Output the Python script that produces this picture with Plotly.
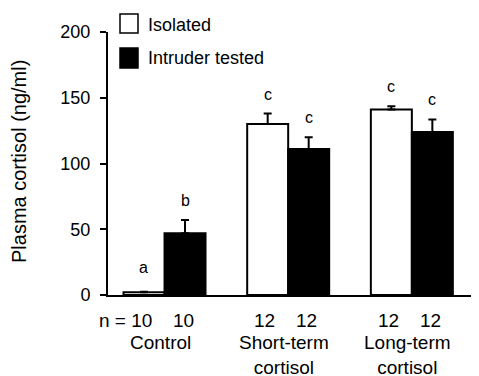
import plotly.graph_objects as go

# ---- data ----
categories = ["Control", "Short-term<br>cortisol", "Long-term<br>cortisol"]
isolated = [2, 130, 141]
isolated_err = [0.5, 8, 2.5]
intruder = [47, 111, 124]
intruder_err = [10, 9, 9.5]
n_isolated = ["10", "12", "12"]
n_intruder = ["10", "12", "12"]
letters_isolated = ["a", "c", "c"]
letters_intruder = ["b", "c", "c"]
y_ticks = [0, 50, 100, 150, 200]
series_names = ["Isolated", "Intruder tested"]

# ---- layout constants (page pixels; the page body adds an 8px offset) ----
OFF = 8
PAGE_W, PAGE_H = 479, 376
W, H = PAGE_W - OFF, PAGE_H - OFF
AX_L, AX_R, AX_T, AX_B = 108, 479, 32, 295   # plot area in page pixels
ML, MT = AX_L - OFF, AX_T - OFF
MR = PAGE_W - AX_R
MB = PAGE_H - AX_B
PW, PH = AX_R - AX_L, AX_B - AX_T
FONT = "Liberation Sans, Arial, Helvetica, sans-serif"
XR = [-0.457, 2.543]
BAR_OFF = 0.166

def px_x(X):
    return (X - AX_L) / PW

def px_y(Y):
    return (AX_B - Y) / PH

xs = list(range(len(categories)))

fig = go.Figure()
fig.add_trace(go.Bar(
    x=xs, y=isolated, name=series_names[0],
    marker=dict(color="white", line=dict(color="black", width=2)),
    error_y=dict(type="data", array=isolated_err, arrayminus=[0] * 3,
                 symmetric=False, color="black", thickness=2, width=4),
))
fig.add_trace(go.Bar(
    x=xs, y=intruder, name=series_names[1],
    marker=dict(color="black", line=dict(color="black", width=2)),
    error_y=dict(type="data", array=intruder_err, arrayminus=[0] * 3,
                 symmetric=False, color="black", thickness=2, width=4),
))

ann = []
# significance letters
for i in xs:
    ann.append(dict(x=i - BAR_OFF, y=isolated[i] + isolated_err[i], xref="x", yref="y",
                    text=letters_isolated[i], showarrow=False, yanchor="bottom",
                    yshift=9 if isolated[i] > 10 else 14, font=dict(size=16)))
    ann.append(dict(x=i + BAR_OFF, y=intruder[i] + intruder_err[i], xref="x", yref="y",
                    text=letters_intruder[i], showarrow=False, yanchor="bottom",
                    yshift=9, font=dict(size=16)))
# n labels
for i in xs:
    if i == 0:
        ann.append(dict(x=i - BAR_OFF, y=px_y(320), xref="x", yref="paper",
                        text="n = " + n_isolated[i], showarrow=False, xanchor="right",
                        xshift=10, yanchor="middle", font=dict(size=19)))
    else:
        ann.append(dict(x=i - BAR_OFF, y=px_y(320), xref="x", yref="paper",
                        text=n_isolated[i], showarrow=False, xanchor="center",
                        xshift=-3, yanchor="middle", font=dict(size=19)))
    ann.append(dict(x=i + BAR_OFF, y=px_y(320), xref="x", yref="paper", text=n_intruder[i],
                    showarrow=False, xanchor="center", xshift=-2, yanchor="middle",
                    font=dict(size=19)))
# category labels
for i, c in enumerate(categories):
    ann.append(dict(x=i, y=px_y(330), xref="x", yref="paper", text=c, showarrow=False,
                    xanchor="center", yanchor="top", xshift=-4, font=dict(size=19)))
# y-axis title
ann.append(dict(x=px_x(18.5), y=px_y(161.5), xref="paper", yref="paper",
                text="Plasma cortisol (ng/ml)", textangle=-90, showarrow=False,
                xanchor="center", yanchor="middle", font=dict(size=20)))
# legend text
ann.append(dict(x=px_x(146), y=px_y(25), xref="paper", yref="paper", text=series_names[0],
                showarrow=False, xanchor="left", yanchor="middle", font=dict(size=18)))
ann.append(dict(x=px_x(146), y=px_y(58), xref="paper", yref="paper", text=series_names[1],
                showarrow=False, xanchor="left", yanchor="middle", font=dict(size=18)))

shapes = [
    dict(type="rect", xref="paper", yref="paper", x0=px_x(120), x1=px_x(138),
         y0=px_y(33), y1=px_y(14), fillcolor="white", line=dict(color="black", width=1.5)),
    dict(type="rect", xref="paper", yref="paper", x0=px_x(120), x1=px_x(138),
         y0=px_y(68), y1=px_y(48), fillcolor="black", line=dict(color="black", width=1.5)),
]

fig.update_layout(
    width=W, height=H,
    margin=dict(l=ML, r=MR, t=MT, b=MB, pad=0),
    paper_bgcolor="white", plot_bgcolor="white",
    font=dict(family=FONT, size=18, color="black"),
    barmode="group", bargap=0.337, bargroupgap=0,
    showlegend=False,
    annotations=ann, shapes=shapes,
    xaxis=dict(range=XR, showticklabels=False, ticks="", showgrid=False, zeroline=False,
               showline=True, linecolor="black", linewidth=2),
    yaxis=dict(range=[0, 200], tickvals=y_ticks, ticks="outside", ticklen=6, tickwidth=2,
               tickcolor="black", showgrid=False, zeroline=False, showline=True,
               linecolor="black", linewidth=2, tickfont=dict(size=18), ticklabelstandoff=6),
)

fig.write_html("out.html")
